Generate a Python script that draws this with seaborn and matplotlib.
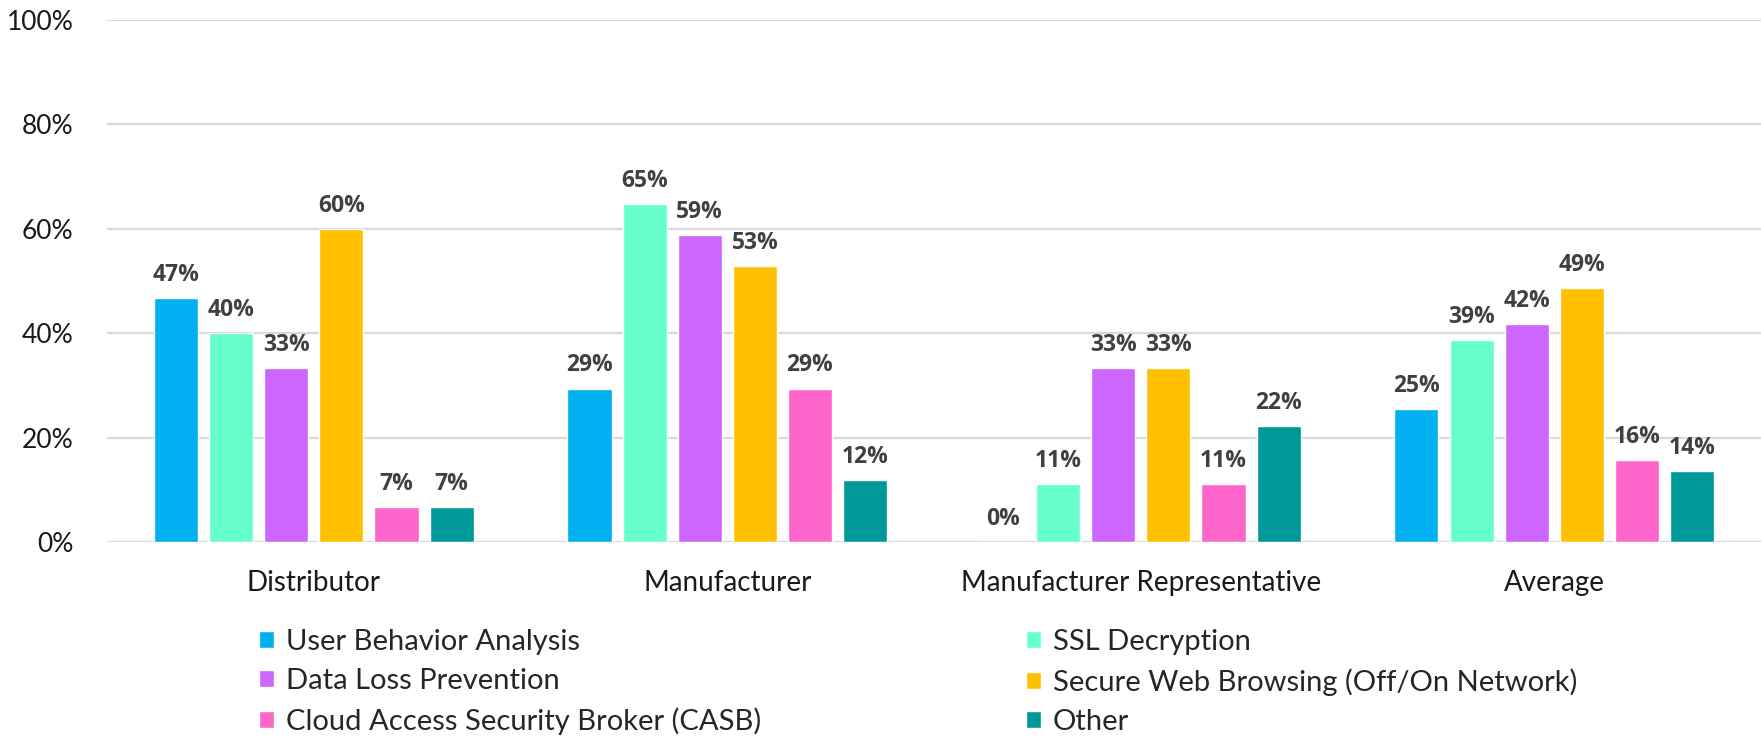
import matplotlib
matplotlib.use("Agg")
from matplotlib import pyplot as plt
from matplotlib.ticker import FuncFormatter
import seaborn as sns
import pandas as pd

# company types on the x axis
categories = ["Distributor", "Manufacturer", "Manufacturer Representative", "Average"]

# one list per technology, values in percent
user_behavior = [46.7, 29.4, 0.0, 25.4]
ssl_decryption = [40.0, 64.7, 11.1, 38.6]
data_loss = [33.3, 58.8, 33.3, 41.8]
secure_web = [60.0, 52.9, 33.3, 48.7]
casb = [6.7, 29.4, 11.1, 15.7]
other = [6.7, 11.8, 22.2, 13.6]

series_names = ["User Behavior Analysis", "SSL Decryption", "Data Loss Prevention",
                "Secure Web Browsing (Off/On Network)",
                "Cloud Access Security Broker (CASB)", "Other"]
series_values = [user_behavior, ssl_decryption, data_loss, secure_web, casb, other]
colors = ["#00B0F0", "#66FFCC", "#CC66FF", "#FFC000", "#FF66CC", "#009999"]

y_ticks = [0, 20, 40, 60, 80, 100]


def build_frame():
    ''' long format table for seaborn'''
    rows = []
    for name, vals in zip(series_names, series_values):
        for cat, v in zip(categories, vals):
            rows.append({"category": cat, "tech": name, "value": v})
    return pd.DataFrame(rows)


df = build_frame()

sns.set_style("white")
plt.rcParams['font.family'] = ['Lato', 'DejaVu Sans']

fig = plt.figure(figsize=(17.61, 7.37), dpi=100)
ax = fig.add_axes([0.0608, 0.2646, 0.9392, 0.7083])

sns.barplot(data=df, x="category", y="value", hue="tech", order=categories,
            hue_order=series_names, palette=colors, width=0.8, gap=0.2,
            errorbar=None, saturation=1, ax=ax)

# value labels above each bar
for cont in ax.containers:
    ax.bar_label(cont, fmt="{:.0f}%", padding=8, fontsize=16.5, fontweight="bold",
                 color="#404040", family="Open Sans")

ax.set_ylim(0, 100)
ax.set_xlim(-0.5, 3.5)
ax.set_yticks(y_ticks)
ax.yaxis.set_major_formatter(FuncFormatter(lambda v, p: f"{v:.0f}%"))
ax.grid(axis="y", color="#D9D9D9", linewidth=1.6)
ax.set_axisbelow(True)
for s in ax.spines.values():
    s.set_visible(False)
ax.tick_params(axis="both", length=0, colors="#1a1a1a")
ax.tick_params(axis="y", pad=24, labelsize=19)
ax.tick_params(axis="x", pad=20, labelsize=20)
ax.set_xlabel("")
ax.set_ylabel("")

# legend is filled row by row in the original
handles, labels = ax.get_legend_handles_labels()
ax.get_legend().remove()
order = [0, 2, 4, 1, 3, 5]
fig.legend([handles[i] for i in order], [labels[i] for i in order], ncol=2,
           loc="upper left", bbox_to_anchor=(0.139, 0.1665), borderpad=0,
           frameon=False, fontsize=21, handlelength=0.5, handleheight=0.55,
           handletextpad=0.4, labelspacing=0.45, columnspacing=9.1)

fig.savefig("out.png", dpi=100)
